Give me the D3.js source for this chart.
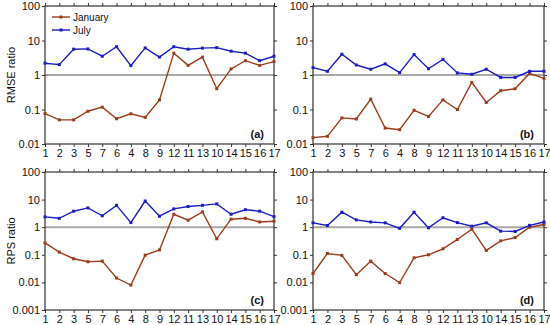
<!DOCTYPE html>
<html><head><meta charset="utf-8">
<script src="https://cdn.jsdelivr.net/npm/d3@7/dist/d3.min.js"></script>
<style>
body{margin:0;background:#fff;}
svg{display:block;font-family:"Liberation Sans",Arial,Helvetica,sans-serif;}
</style></head>
<body>
<svg id="c" width="550" height="325"></svg>
<script>
const categories = ["1","2","3","5","7","6","4","8","9","12","11","13","10","14","15","16","17"];
const seriesNames = ["January","July"];
const aJanuary = [0.076,0.050,0.050,0.089,0.117,0.054,0.075,0.059,0.19,4.3,1.9,3.3,0.40,1.5,2.6,1.9,2.45];
const aJuly    = [2.2,2.0,5.6,5.7,3.5,6.6,1.87,6.1,3.3,6.6,5.6,6.0,6.2,4.9,4.3,2.6,3.5];
const bJanuary = [0.0153,0.0167,0.057,0.053,0.20,0.029,0.026,0.095,0.063,0.19,0.10,0.61,0.16,0.35,0.40,1.12,0.80];
const bJuly    = [1.64,1.28,4.0,1.95,1.47,2.1,1.17,3.9,1.52,2.85,1.15,1.05,1.47,0.85,0.85,1.28,1.28];
const cJanuary = [0.27,0.125,0.072,0.056,0.059,0.0144,0.0080,0.097,0.15,2.95,1.8,3.6,0.38,1.95,2.1,1.55,1.65];
const cJuly    = [2.36,2.1,3.8,5.0,2.6,6.2,1.47,8.9,2.5,4.6,5.6,6.2,7.0,2.95,4.3,3.8,2.4];
const dJanuary = [0.021,0.112,0.095,0.019,0.059,0.021,0.0098,0.078,0.10,0.165,0.36,0.85,0.144,0.32,0.42,1.0,1.25];
const dJuly    = [1.44,1.15,3.5,1.84,1.55,1.44,0.91,3.5,0.95,2.2,1.47,1.09,1.44,0.72,0.70,1.17,1.55];
const yTicksTop = [100,10,1,0.1,0.01];
const yTicksBottom = [100,10,1,0.1,0.01,0.001];
const panelLabels = ["(a)","(b)","(c)","(d)"];
const yTitles = ["RMSE ratio","RPS ratio"];

const colJan = "#9b3d1c", colJul = "#1c1cc4", frame = "#333";
const svg = d3.select("#c");

const panels = [
  {x0:45,x1:274,y0:6,y1:144,jan:aJanuary,jul:aJuly,ticks:yTicksTop,label:panelLabels[0],title:yTitles[0],legend:true},
  {x0:313,x1:544,y0:6,y1:144,jan:bJanuary,jul:bJuly,ticks:yTicksTop,label:panelLabels[1]},
  {x0:45,x1:274,y0:172,y1:310,jan:cJanuary,jul:cJuly,ticks:yTicksBottom,label:panelLabels[2],title:yTitles[1]},
  {x0:313,x1:544,y0:172,y1:310,jan:dJanuary,jul:dJuly,ticks:yTicksBottom,label:panelLabels[3]}
];

const fmt = v => (v>=1? d3.format("d")(v) : String(v));

panels.forEach(p=>{
  const x = d3.scalePoint().domain(categories).range([p.x0,p.x1]);
  const y = d3.scaleLog().domain([d3.min(p.ticks),d3.max(p.ticks)]).range([p.y1,p.y0]);
  const g = svg.append("g");

  g.append("line").attr("x1",p.x0).attr("x2",p.x1).attr("y1",y(1)).attr("y2",y(1))
    .attr("stroke","#a8a8a8").attr("stroke-width",2);

  const xb = g.append("g").attr("transform",`translate(0,${p.y1})`)
    .call(d3.axisBottom(x).tickSize(3).tickPadding(2));
  const xt = g.append("g").attr("transform",`translate(0,${p.y0})`)
    .call(d3.axisTop(x).tickSize(3).tickFormat(""));
  const yl = g.append("g").attr("transform",`translate(${p.x0},0)`)
    .call(d3.axisLeft(y).tickValues(p.ticks).tickFormat(fmt).tickSize(3).tickPadding(2));
  const yr = g.append("g").attr("transform",`translate(${p.x1},0)`)
    .call(d3.axisRight(y).tickValues(p.ticks).tickFormat("").tickSize(3));
  [xb,xt,yl,yr].forEach(a=>{
    a.select(".domain").remove();
    a.selectAll(".tick line").attr("stroke",frame);
    a.selectAll("text").attr("fill","#111").style("font-size","11px").style("font-family","'Liberation Sans',Arial,sans-serif");
  });
  g.append("rect").attr("x",p.x0).attr("y",p.y0).attr("width",p.x1-p.x0).attr("height",p.y1-p.y0)
    .attr("fill","none").attr("stroke",frame).attr("stroke-width",1.2);

  const line = d3.line().x((d,i)=>x(categories[i])).y(d=>y(d));
  [[p.jan,colJan],[p.jul,colJul]].forEach(([vals,col])=>{
    g.append("path").datum(vals).attr("d",line).attr("fill","none").attr("stroke",col).attr("stroke-width",1.4);
    g.selectAll(null).data(vals).enter().append("rect")
      .attr("x",(d,i)=>x(categories[i])-1.5).attr("y",d=>y(d)-1.5)
      .attr("width",3).attr("height",3).attr("fill",col);
  });

  g.append("text").attr("x",p.x1-10).attr("y",p.y1-6).attr("text-anchor","end")
    .style("font-size","11px").style("font-weight","bold").attr("fill","#111").text(p.label);

  if(p.title){
    g.append("text").attr("transform",`translate(15,${(p.y0+p.y1)/2}) rotate(-90)`)
      .attr("text-anchor","middle").style("font-size","11px").attr("fill","#111").text(p.title);
  }
  if(p.legend){
    [[colJan,seriesNames[0],17],[colJul,seriesNames[1],30]].forEach(([col,name,ly])=>{
      g.append("line").attr("x1",52).attr("x2",70).attr("y1",ly).attr("y2",ly).attr("stroke",col).attr("stroke-width",1.4);
      g.append("rect").attr("x",59.5).attr("y",ly-1.5).attr("width",3).attr("height",3).attr("fill",col);
      g.append("text").attr("x",73).attr("y",ly+3.5).style("font-size","10px").attr("fill","#111").text(name);
    });
  }
});
</script>
</body></html>
